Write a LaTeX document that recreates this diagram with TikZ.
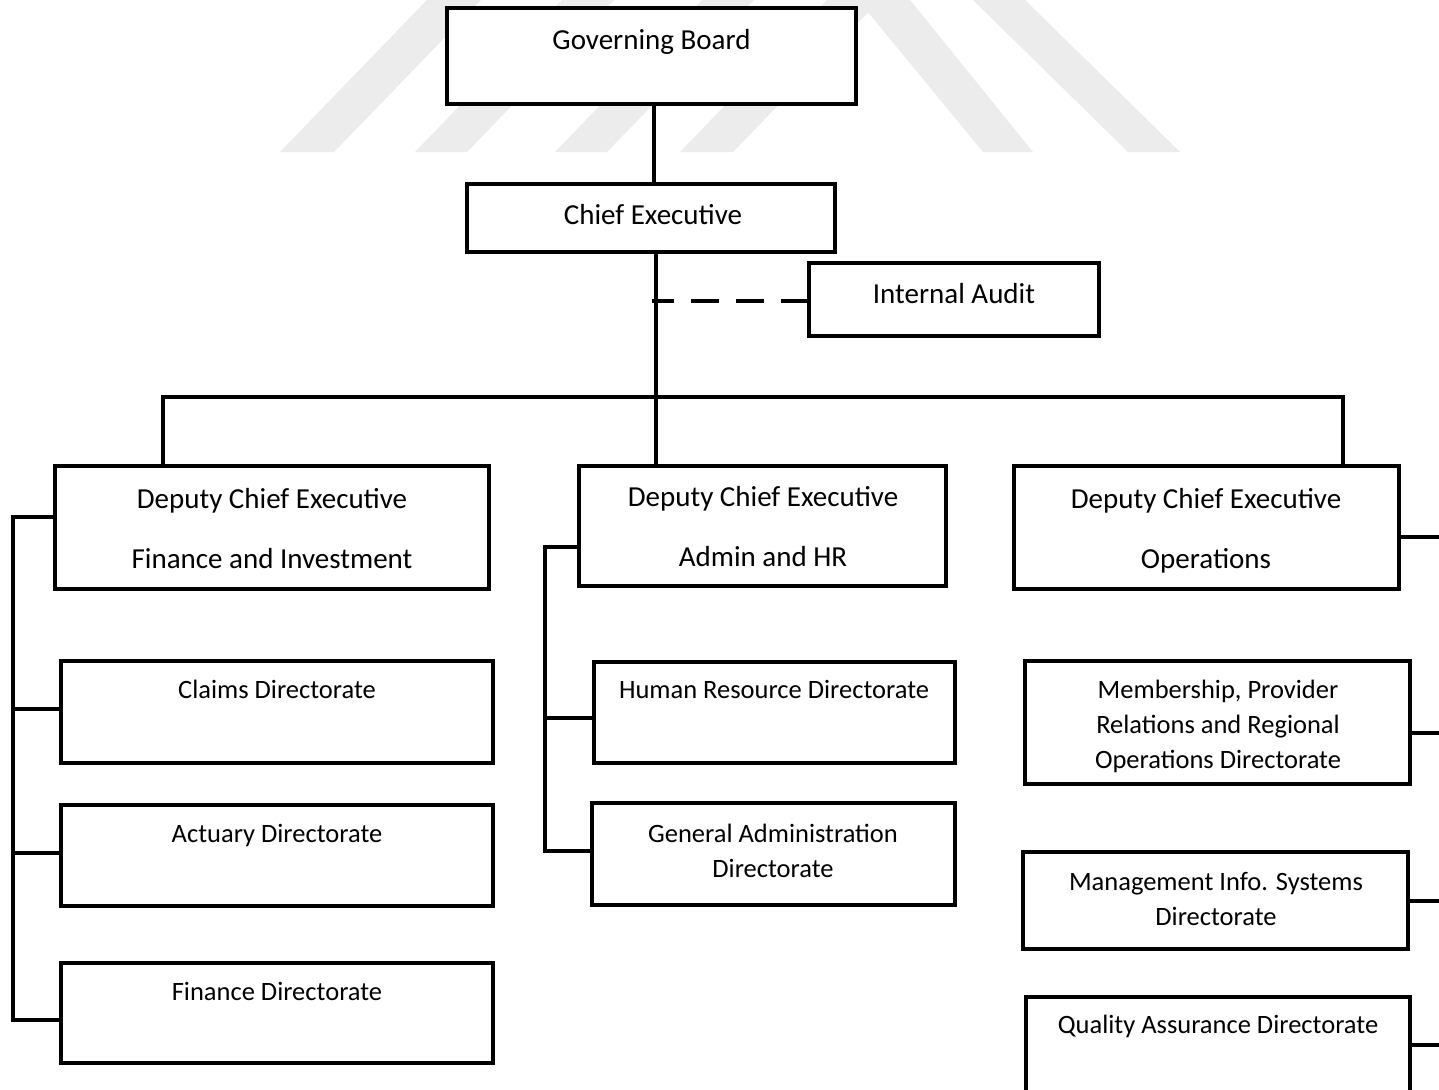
\documentclass[tikz,border=0pt]{standalone}
\usepackage{fontspec}
\setmainfont{Carlito}
\usetikzlibrary{fit}
\definecolor{wmark}{RGB}{236,236,236}
\begin{document}
\begin{tikzpicture}[x=1pt,y=-1pt,
  box/.style={draw, line width=3.5pt, fill=white, inner sep=0pt, outer sep=0pt, rectangle},
  link/.style={line width=3.5pt},
  audit/.style={line width=3.5pt, dash pattern=on 28pt off 17pt},
  head/.style={font=\fontsize{29}{60}\selectfont, align=center, anchor=base, inner sep=0pt},
  unit/.style={font=\fontsize{26.5}{35}\selectfont, align=center, anchor=base, inner sep=0pt},
]
\path[use as bounding box] (0,0) rectangle (1439,1089);
\clip (0,0) rectangle (1439,1089);
\fill[white] (0,0) rectangle (1439,1089);

% faint striped emblem behind the top of the chart
\fill[wmark] (280,152) -- (334,152) -- (481,0) -- (427,0) -- cycle;
\fill[wmark] (415,152) -- (467,152) -- (614,0) -- (562,0) -- cycle;
\fill[wmark] (555,152) -- (607,152) -- (754,0) -- (702,0) -- cycle;
\fill[wmark] (680,152) -- (733,152) -- (880,0) -- (827,0) -- cycle;
\fill[wmark] (858,0) -- (910,0) -- (1033,152) -- (983,152) -- cycle;
\fill[wmark] (973,0) -- (1025,0) -- (1180,152) -- (1128,152) -- cycle;

% boxes
\node[box, fit={(447,8) (856,104)}] (gb) {};
\node[box, fit={(467,184) (835,252)}] (ce) {};
\node[box, fit={(809,263) (1099,336)}] (ia) {};
\node[box, fit={(55,466) (489,589)}] (fin) {};
\node[box, fit={(579,466) (946,586)}] (adm) {};
\node[box, fit={(1014,466) (1399,589)}] (ops) {};
\node[box, fit={(61,661) (493,763)}] (claims) {};
\node[box, fit={(61,805) (493,906)}] (actuary) {};
\node[box, fit={(61,963) (493,1063)}] (findir) {};
\node[box, fit={(594,662) (955,763)}] (hr) {};
\node[box, fit={(592,803) (955,905)}] (ga) {};
\node[box, fit={(1025,661) (1410,784)}] (mem) {};
\node[box, fit={(1023,852) (1408,949)}] (mis) {};
\node[box, fit={(1026,997) (1410,1120)}] (qa) {};

% labels (multi-line labels sit on the baseline of their last line)
\node[head] at (651.5,50) {Governing Board};
\node[head] at (653,224) {Chief Executive};
\node[head] at (954,303) {Internal Audit};
\node[head] at (272,568) {Deputy Chief Executive\\Finance and Investment};
\node[head] at (763,566) {Deputy Chief Executive\\Admin and HR};
\node[head] at (1206,568) {Deputy Chief Executive\\Operations};
\node[unit] at (277,698) {Claims Directorate};
\node[unit] at (277,842) {Actuary Directorate};
\node[unit] at (277,1000) {Finance Directorate};
\node[unit] at (774,698) {Human Resource Directorate};
\node[unit] at (773,877) {General Administration\\Directorate};
\node[unit] at (1218,768) {Membership, Provider\\Relations and Regional\\Operations Directorate};
\node[unit] at (1216,925) {Management Info. Systems\\Directorate};
\node[unit] at (1218,1033) {Quality Assurance Directorate};

% reporting lines
\coordinate (trunk) at (652,301);
\coordinate (busL) at (163,397);
\coordinate (busR) at (1343,397);
\coordinate (finbus) at (13,517);
\coordinate (admbus) at (545,547);
\coordinate (opsbus) at (1445,537);

\draw[link] ([xshift=2.5pt]gb.south) -- ([xshift=2.5pt]gb.south |- ce.north);
\draw[link] ([xshift=5pt]ce.south) -- ([xshift=5pt]ce.south |- adm.north);
\draw[audit] (ia.west |- trunk) -- (trunk);
\draw[link] (busL |- fin.north) -- (busL) -- (busR) -- (busR |- ops.north);

\draw[link] (fin.west |- finbus) -- (finbus) -- (finbus |- 0,1020) -- (findir.west |- 0,1020);
\draw[link] (finbus |- 0,709) -- (claims.west |- 0,709);
\draw[link] (finbus |- 0,853) -- (actuary.west |- 0,853);

\draw[link] (adm.west |- admbus) -- (admbus) -- (admbus |- 0,851) -- (ga.west |- 0,851);
\draw[link] (admbus |- 0,718) -- (hr.west |- 0,718);

\draw[link] (ops.east |- opsbus) -- (opsbus);
\draw[link] (mem.east |- 0,733) -- (opsbus |- 0,733);
\draw[link] (mis.east |- 0,901) -- (opsbus |- 0,901);
\draw[link] (qa.east |- 0,1045) -- (opsbus |- 0,1045);
\end{tikzpicture}
\end{document}
